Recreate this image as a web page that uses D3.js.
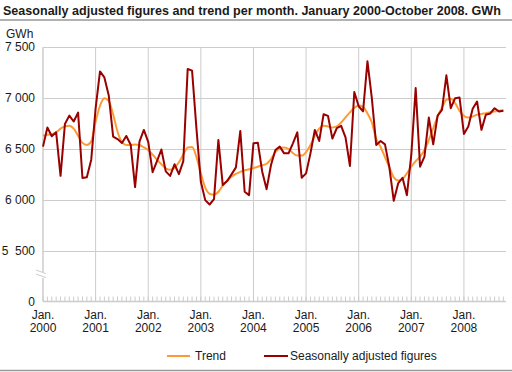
<!DOCTYPE html>
<html><head><meta charset="utf-8">
<script src="https://cdn.jsdelivr.net/npm/d3@7/dist/d3.min.js"></script>
<style>body{margin:0;background:#fff}svg{display:block;font-family:"Liberation Sans",Arial,sans-serif}</style>
</head><body>
<script>
const title = "Seasonally adjusted figures and trend per month. January 2000-October 2008. GWh";
const unitLabel = "GWh";
const yearLabels = ["2000","2001","2002","2003","2004","2005","2006","2007","2008"];
const yTickValues = [5000,5500,6000,6500,7000,7500];
const yTickLabels = ["0","5  500","6 000","6 500","7 000","7 500"];
const seriesNames = ["Trend","Seasonally adjusted figures"];
const seasonallyAdjusted = [
6523,6711,6625,6664,6236,6745,6828,6770,6858,6215,6222,6395,
6900,7263,7204,7025,6622,6597,6559,6628,6542,6125,6572,6687,
6569,6272,6380,6495,6280,6235,6350,6253,6381,7286,7270,6700,
6177,5997,5954,6006,6589,6145,6184,6250,6319,6678,6079,6046,
6556,6562,6276,6105,6342,6490,6523,6457,6457,6556,6664,6217,
6260,6457,6687,6579,6842,6826,6602,6704,6728,6614,6333,7060,
6920,6870,7362,7000,6539,6579,6545,6320,5990,6161,6217,6046,
6441,7099,6326,6424,6809,6546,6829,6885,7224,6901,7000,7007,
6648,6720,6895,6967,6688,6836,6849,6901,6868,6875];
const trend = [
6630,6640,6645,6665,6700,6722,6728,6700,6630,6560,6540,6575,
6770,6925,6998,6970,6840,6670,6570,6540,6540,6545,6540,6515,
6490,6445,6395,6350,6310,6295,6315,6370,6445,6515,6520,6420,
6260,6120,6060,6050,6080,6140,6190,6230,6255,6275,6290,6300,
6312,6325,6340,6355,6400,6470,6505,6515,6500,6460,6435,6435,
6470,6540,6630,6700,6728,6722,6712,6722,6760,6810,6860,6905,
6928,6915,6850,6760,6600,6520,6420,6320,6220,6190,6205,6260,
6326,6381,6424,6490,6589,6704,6819,6908,6984,6993,6951,6875,
6826,6809,6819,6836,6845,6852,6862,6868,6875,6882];

const W=512,H=372;
const svg=d3.select("body").append("svg").attr("width",W).attr("height",H);
const x=d3.scaleLinear().domain([0,105.6]).range([43,506]);
const y=d3.scaleLinear().domain([5000,7500]).range([301.5,47.3]);
const grid="#cccccc";
const txt="#1a1a1a";

svg.append("text").attr("x",3).attr("y",15).attr("font-size",12.55).attr("font-weight","bold").attr("fill",txt).text(title);
svg.append("line").attr("x1",0).attr("x2",W).attr("y1",20).attr("y2",20).attr("stroke","#999").attr("stroke-width",1.5);
svg.append("line").attr("x1",0).attr("x2",W).attr("y1",370.5).attr("y2",370.5).attr("stroke","#999").attr("stroke-width",1.5);

// horizontal grid
svg.append("g").selectAll("line").data(yTickValues.slice(1)).join("line")
 .attr("x1",43).attr("x2",506).attr("y1",d=>Math.round(y(d))+0.5).attr("y2",d=>Math.round(y(d))+0.5)
 .attr("stroke",grid).attr("stroke-width",1);
// vertical year grid
svg.append("g").selectAll("line").data(yearLabels.map((d,i)=>i*12)).join("line")
 .attr("x1",d=>x(d)).attr("x2",d=>x(d)).attr("y1",y(7500)).attr("y2",y(5000))
 .attr("stroke",grid).attr("stroke-width",d=>d===0?1.5:1);
// month minor ticks
svg.append("g").selectAll("line").data(d3.range(0,106)).join("line")
 .attr("x1",d=>x(d)).attr("x2",d=>x(d)).attr("y1",y(5000)-5).attr("y2",y(5000))
 .attr("stroke",grid).attr("stroke-width",1);
// baseline
svg.append("line").attr("x1",43).attr("x2",506).attr("y1",y(5000)).attr("y2",y(5000)).attr("stroke",grid).attr("stroke-width",1.5);

// axis break
const by=y(5250);
svg.append("rect").attr("x",36).attr("y",by-4).attr("width",12).attr("height",6).attr("fill","#fff");
[-2,2].forEach(o=>svg.append("line").attr("x1",36).attr("x2",46).attr("y1",by-4+o).attr("y2",by+o-0.5).attr("stroke",grid).attr("stroke-width",1));

// y labels
svg.append("g").selectAll("text").data(yTickValues).join("text")
 .attr("x",35).attr("y",d=>y(d)+4).attr("text-anchor","end").attr("font-size",12).attr("fill",txt)
 .attr("xml:space","preserve").style("white-space","pre").text((d,i)=>yTickLabels[i]);
svg.append("text").attr("x",6).attr("y",38).attr("font-size",12).attr("fill",txt).text(unitLabel);

// x labels
const xl=svg.append("g").selectAll("g").data(yearLabels).join("g");
xl.append("text").attr("x",(d,i)=>x(i*12)).attr("y",319).attr("text-anchor","middle").attr("font-size",12).attr("fill",txt).text("Jan.");
xl.append("text").attr("x",(d,i)=>x(i*12)).attr("y",332).attr("text-anchor","middle").attr("font-size",12).attr("fill",txt).text(d=>d);

// lines
const lineT=d3.line().x((d,i)=>x(i)).y(d=>y(d)).curve(d3.curveMonotoneX);
const lineS=d3.line().x((d,i)=>x(i)).y(d=>y(d));
svg.append("path").attr("d",lineT(trend)).attr("fill","none").attr("stroke","#ff9a33").attr("stroke-width",2);
svg.append("path").attr("d",lineS(seasonallyAdjusted)).attr("fill","none").attr("stroke","#990000").attr("stroke-width",2).attr("stroke-linejoin","round");

// legend
svg.append("line").attr("x1",167).attr("x2",190).attr("y1",356).attr("y2",356).attr("stroke","#ff9a33").attr("stroke-width",2);
svg.append("text").attr("x",195).attr("y",360).attr("font-size",12).attr("fill",txt).text(seriesNames[0]);
svg.append("line").attr("x1",264).attr("x2",288).attr("y1",356).attr("y2",356).attr("stroke","#990000").attr("stroke-width",2);
svg.append("text").attr("x",290).attr("y",360).attr("font-size",12).attr("fill",txt).text(seriesNames[1]);
</script>
</body></html>
